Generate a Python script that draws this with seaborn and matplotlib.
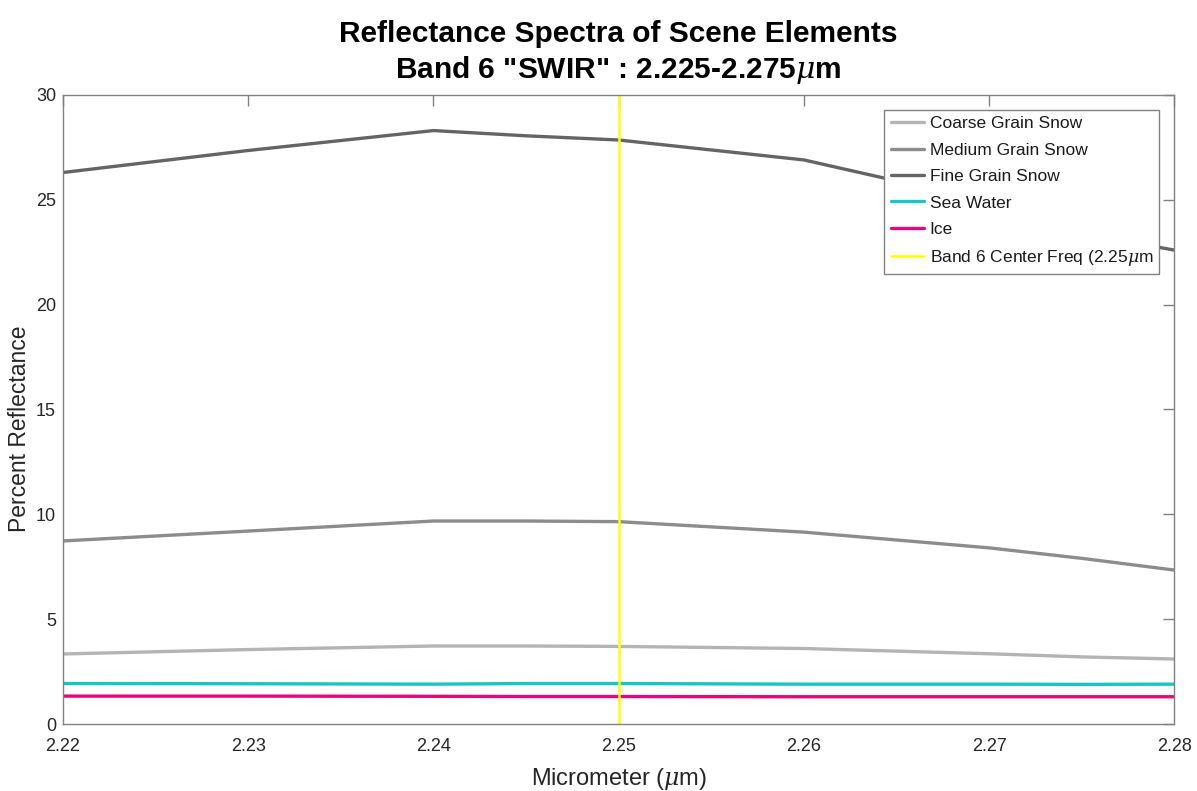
import numpy as np
import pandas as pd
import matplotlib
matplotlib.use("Agg")
import matplotlib.pyplot as plt
import seaborn as sns

# Wavelength samples (micrometers)
wavelength = [2.22, 2.23, 2.24, 2.245, 2.25, 2.26, 2.27, 2.275, 2.28]

# Percent reflectance per scene element
coarse_snow = [3.34, 3.55, 3.72, 3.72, 3.70, 3.60, 3.35, 3.20, 3.10]
medium_snow = [8.73, 9.20, 9.68, 9.68, 9.65, 9.15, 8.40, 7.90, 7.34]
fine_snow = [26.3, 27.35, 28.3, 28.05, 27.85, 26.9, 24.9, 23.4, 22.6]
sea_water = [1.93, 1.92, 1.90, 1.93, 1.93, 1.90, 1.90, 1.89, 1.90]
ice = [1.33, 1.33, 1.32, 1.31, 1.31, 1.30, 1.30, 1.30, 1.30]

series_names = ["Coarse Grain Snow", "Medium Grain Snow", "Fine Grain Snow",
                "Sea Water", "Ice"]
series_values = [coarse_snow, medium_snow, fine_snow, sea_water, ice]
series_colors = ["#b4b4b4", "#8c8c8c", "#646464", "#18c4c4", "#e8077a"]

band_center = 2.25
band_label = "Band 6 Center Freq (2.25$\\mu$m"

x_ticks = [2.22, 2.23, 2.24, 2.25, 2.26, 2.27, 2.28]
y_ticks = [0, 5, 10, 15, 20, 25, 30]

df = pd.DataFrame({
    "Wavelength": np.tile(wavelength, len(series_names)),
    "Reflectance": np.concatenate(series_values),
    "Element": np.repeat(series_names, len(wavelength)),
})

sns.set_theme(style="white")
plt.rcParams["font.family"] = ["Liberation Sans", "DejaVu Sans"]
plt.rcParams["mathtext.fontset"] = "custom"
plt.rcParams["mathtext.it"] = "DejaVu Serif:italic"

fig = plt.figure(figsize=(11.97, 7.91), dpi=100)
ax = fig.add_axes([0.0526, 0.0847, 0.9285, 0.7953])

sns.lineplot(data=df, x="Wavelength", y="Reflectance", hue="Element",
             hue_order=series_names, palette=series_colors, linewidth=2.4,
             ax=ax, legend=False)
ax.axvline(band_center, color="#ffff00", linewidth=1.8)

handles = [plt.Line2D([], [], color=c, linewidth=2.4) for c in series_colors]
handles.append(plt.Line2D([], [], color="#ffff00", linewidth=1.8))
labels = series_names + [band_label]
leg = ax.legend(handles, labels, loc="upper right", bbox_to_anchor=(0.9865, 0.976),
                fontsize=12.5, frameon=True, fancybox=False, framealpha=1,
                edgecolor="#808080", borderpad=0.35, labelspacing=0.65,
                handlelength=1.9, handletextpad=0.35, borderaxespad=0)
leg.get_frame().set_linewidth(1.0)
for t in leg.get_texts():
    t.set_color("#1a1a1a")

ax.set_xlim(2.22, 2.28)
ax.set_ylim(0, 30)
ax.set_xticks(x_ticks)
ax.set_xticklabels([f"{v:.2f}" for v in x_ticks])
ax.set_yticks(y_ticks)
ax.tick_params(direction="in", length=8, width=1, colors="#808080",
               labelcolor="#262626", labelsize=13, top=True, right=True, pad=5)
ax.tick_params(axis="x", pad=10)
for s in ax.spines.values():
    s.set_color("#808080")
    s.set_linewidth(1.0)

ax.set_xlabel("Micrometer ($\\mu$m)", fontsize=17, color="#262626", labelpad=8)
ax.set_ylabel("Percent Reflectance", fontsize=16.5, color="#262626")
ax.yaxis.set_label_coords(-0.029, 0.47)
ax.set_title("Reflectance Spectra of Scene Elements\nBand 6 \"SWIR\" : 2.225-2.275$\\mu$m",
             fontsize=21.5, fontweight="bold", color="black", pad=12, linespacing=1.25)

fig.savefig("out.png", dpi=100)
